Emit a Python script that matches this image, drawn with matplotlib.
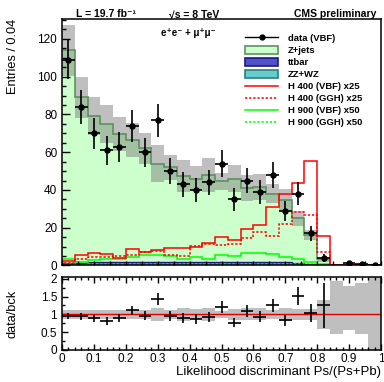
import numpy as np
import matplotlib
matplotlib.use("Agg")
import matplotlib.pyplot as plt
from matplotlib.lines import Line2D
from matplotlib.patches import Patch
from matplotlib.ticker import MultipleLocator

plt.rcParams['font.family'] = ['Liberation Sans', 'DejaVu Sans']

# 25 bins of width 0.04 in the likelihood discriminant
edges = np.linspace(0, 1, 26)
centers = 0.5 * (edges[:-1] + edges[1:])

data = [109, 84, 70, 61, 63, 74, 60, 77, 50, 43, 40, 44, 54, 35, 45, 39, 48, 29, 38, 17, 4, 0, 1.2, 0.6, 0.5]
bkg_total = [114, 89, 79, 75, 69.5, 66.5, 62, 54, 52, 47.5, 46, 48, 44.5, 46, 41, 41.5, 38, 34.5, 25, 16.3, 3.2, 0.3, 0.15, 0.1, 0.05]
bkg_err = [13.5, 11, 10, 10, 9, 9, 8, 10, 6.5, 8.5, 6.5, 9, 4.5, 7, 7, 7, 4.9, 6.2, 4, 2.7, 1.3, 0.2, 0.1, 0.1, 0.05]
ttbar = [0.8, 0.8, 1.5, 1.6, 1.6, 1.5, 1.5, 1.4, 1.5, 1.4, 1.4, 1.5, 1.4, 1.4, 1.5, 1.4, 1.4, 1.3, 1.1, 0.7, 0.2, 0, 0, 0, 0]
zzwz = [0.3, 0.3, 0.4, 0.4, 0.4, 0.4, 0.4, 0.4, 0.4, 0.4, 0.4, 0.4, 0.4, 0.4, 0.4, 0.4, 0.4, 0.4, 0.3, 0.2, 0.1, 0, 0, 0, 0]

h400_vbf = [2.5, 5.8, 6.7, 6.2, 4.1, 8.7, 7.2, 8.0, 9.4, 9.2, 10.0, 11.8, 15.0, 13.3, 19.4, 21.2, 31.0, 37.7, 43.9, 55.2, 15.4, 0.3, 0, 0, 0]
h400_ggh = [1.4, 3.4, 4.6, 4.6, 5.1, 5.5, 7.3, 7.6, 5.8, 5.1, 10.4, 11.3, 11.1, 11.5, 14.5, 17.7, 15.6, 22.1, 28.2, 26.7, 7.3, 0.2, 0, 0, 0]
h900_vbf = [3.2, 2.0, 2.8, 3.4, 3.4, 4.6, 5.5, 5.3, 4.8, 3.5, 4.4, 3.5, 5.8, 5.0, 6.5, 6.4, 6.0, 4.4, 3.5, 1.8, 0.9, 0.1, 0, 0, 0]
h900_ggh = [0.6, 0.5, 0.6, 0.7, 0.7, 0.8, 0.8, 0.8, 0.9, 0.8, 0.9, 0.9, 1.0, 0.9, 1.0, 1.0, 1.0, 0.9, 0.8, 0.6, 0.3, 0, 0, 0, 0]

# ratio band for the last bins where the background is almost empty
tail_lo = [0.45, 0.57, 0.45, 0.0]
tail_hi = [1.95, 1.80, 1.88, 2.05]

data = np.array(data)
bkg_total = np.array(bkg_total)
bkg_err = np.array(bkg_err)
ttbar = np.array(ttbar)
zzwz = np.array(zzwz)

fig = plt.figure(figsize=(3.84, 3.82), dpi=100)
ax = fig.add_axes([0.1615, 0.305, 0.8307, 0.645])
ax2 = fig.add_axes([0.1615, 0.0838, 0.8307, 0.191])

# stacked backgrounds
ax.stairs(zzwz, edges, baseline=0, fill=True, facecolor='#66cccc', edgecolor='none')
ax.stairs(zzwz + ttbar, edges, baseline=zzwz, fill=True, facecolor='#5050c8', edgecolor='none')
ax.stairs(bkg_total, edges, baseline=zzwz + ttbar, fill=True, facecolor='#ccffcc', edgecolor='none')
ax.stairs(zzwz + ttbar, edges, baseline=None, color='#1a1a80', lw=1.0)

# background uncertainty
ax.bar(centers, 2 * bkg_err, bottom=bkg_total - bkg_err, width=0.04,
       color='#808080', alpha=0.5, linewidth=0)
ax.stairs(bkg_total, edges, baseline=None, color='#5f905f', lw=1.2)

# signals
ax.stairs(h900_ggh, edges, baseline=0, color='#00ff00', lw=1.1, ls=(0, (1.5, 1.2)))
ax.stairs(h900_vbf, edges, baseline=0, color='#00ff00', lw=1.1)
ax.stairs(h400_ggh, edges, baseline=0, color='#ff0000', lw=1.1, ls=(0, (1.5, 1.2)))
ax.stairs(h400_vbf, edges, baseline=0, color='#ff0000', lw=1.1)

# data
m = data > 0
ax.errorbar(centers[m], data[m], yerr=np.sqrt(data[m]), xerr=0.02, fmt='o', color='k',
            markersize=3.6, elinewidth=1.2, capsize=0)

ax.set_xlim(0, 1)
ax.set_ylim(0, 130.5)
ax.yaxis.set_major_locator(MultipleLocator(20))
ax.yaxis.set_minor_locator(MultipleLocator(5))
ax.xaxis.set_major_locator(MultipleLocator(0.1))
ax.xaxis.set_minor_locator(MultipleLocator(0.05))
ax.tick_params(which='both', direction='in', labelsize=8.5, width=1.0)
ax.tick_params(which='major', length=6)
ax.tick_params(which='minor', length=3)
ax.tick_params(axis='x', labelbottom=False, length=3)
for s in ax.spines.values():
    s.set_linewidth(1.1)
ax.set_ylabel('Entries / 0.04', fontsize=9.2, loc='top')
ax.yaxis.set_label_coords(-0.135, 1.0)

ax.text(0.395, 0.945, 'e\u207ae\u207b + \u03bc\u207a\u03bc\u207b', transform=ax.transAxes,
        fontsize=7, fontweight='bold', ha='center', va='center')

handles = [
    Line2D([], [], color='k', marker='o', markersize=3.5, lw=1),
    Patch(facecolor='#ccffcc', edgecolor='#5f905f', lw=1.2),
    Patch(facecolor='#5050c8', edgecolor='#1a1a80', lw=1.2),
    Patch(facecolor='#66cccc', edgecolor='#2a8080', lw=1.2),
    Line2D([], [], color='#ff0000', lw=1.1),
    Line2D([], [], color='#ff0000', lw=1.1, ls=(0, (1.5, 1.2))),
    Line2D([], [], color='#00ff00', lw=1.1),
    Line2D([], [], color='#00ff00', lw=1.1, ls=(0, (1.5, 1.2))),
]
labels = ['data (VBF)', 'Z+jets', 'ttbar', 'ZZ+WZ', 'H 400 (VBF) x25',
          'H 400 (GGH) x25', 'H 900 (VBF) x50', 'H 900 (GGH) x50']
ax.legend(handles, labels, loc='upper left', bbox_to_anchor=(0.574, 0.94), frameon=False,
          prop={'size': 6.8, 'weight': 'bold'}, handlelength=3.5, handleheight=0.9,
          handletextpad=1.0, labelspacing=0.3, borderpad=0, borderaxespad=0)

# ratio panel
ratio = data / bkg_total
rel = bkg_err / bkg_total
lo = 1 - rel
hi = 1 + rel
lo[-4:] = tail_lo
hi[-4:] = tail_hi
ax2.bar(centers, hi - lo, bottom=lo, width=0.04, color='#808080', alpha=0.5, linewidth=0)
ax2.axhline(1, color='#dd0000', lw=1.0)
r = (data > 0) & (centers < 0.84)
ax2.errorbar(centers[r], ratio[r], yerr=np.sqrt(data[r]) / bkg_total[r], xerr=0.02,
             fmt='none', ecolor='k', elinewidth=1.2, capsize=0)
ax2.set_xlim(0, 1)
ax2.set_ylim(0, 2.05)
ax2.xaxis.set_major_locator(MultipleLocator(0.1))
ax2.xaxis.set_minor_locator(MultipleLocator(0.02))
ax2.yaxis.set_major_locator(MultipleLocator(0.5))
ax2.yaxis.set_minor_locator(MultipleLocator(0.25))
ax2.set_xticks(np.arange(0, 1.01, 0.1))
ax2.set_xticklabels(['0', '0.1', '0.2', '0.3', '0.4', '0.5', '0.6', '0.7', '0.8', '0.9', '1'])
ax2.set_yticks([0, 0.5, 1, 1.5, 2])
ax2.set_yticklabels(['0', '0.5', '1', '1.5', '2'])
ax2.tick_params(which='both', direction='in', top=True, labelsize=8.5, width=1.0)
ax2.tick_params(which='major', length=4)
ax2.tick_params(which='minor', length=2)
ax2.tick_params(axis='x', pad=2)
for s in ax2.spines.values():
    s.set_linewidth(1.1)
ax2.set_ylabel('data/bck', fontsize=9.2)
ax2.yaxis.set_label_coords(-0.135, 0.5)
ax2.set_xlabel('Likelihood discriminant Ps/(Ps+Pb)', fontsize=9.5, loc='right', labelpad=1)

# header
fig.text(106 / 384, 1 - 14 / 382, 'L = 19.7 fb\u207b\u00b9', fontsize=7.5, fontweight='bold',
         ha='center', va='center')
fig.text(194 / 384, 1 - 14 / 382, '\u221as = 8 TeV', fontsize=7.5, fontweight='bold',
         ha='center', va='center')
fig.text(376 / 384, 1 - 14 / 382, 'CMS preliminary', fontsize=7.5, fontweight='bold',
         ha='right', va='center')

fig.savefig('out.png', dpi=100)
